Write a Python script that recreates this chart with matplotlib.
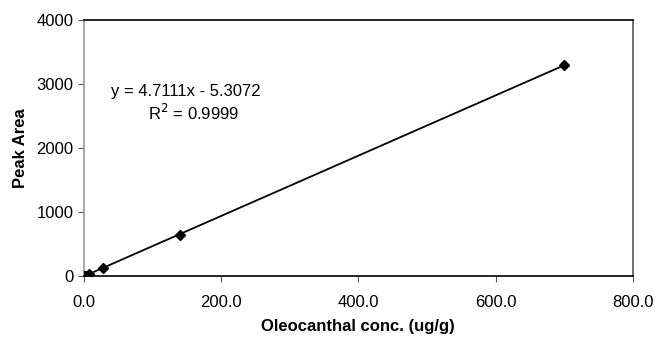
import numpy as np
import matplotlib.pyplot as plt

plt.rcParams['font.family'] = ['Liberation Sans', 'DejaVu Sans']

conc = [0.7, 1.4, 2.8, 7.0, 28.0, 140.0, 700.0]
area = [0.5, 2.0, 6.0, 25.0, 118.0, 645.0, 3290.0]
slope, intercept = 4.7111, -5.3072
x_ticks = [0, 200, 400, 600, 800]
y_ticks = [0, 1000, 2000, 3000, 4000]

fig = plt.figure(figsize=(6.55, 3.39), dpi=100)
ax = fig.add_axes([0.128, 0.186, 0.838, 0.755])

fit_x = np.array([min(conc), max(conc)])
ax.plot(fit_x, slope * fit_x + intercept, color='black', lw=1.3, zorder=2)
ax.plot(conc, area, linestyle='none', marker='D', color='black', ms=5, zorder=3)

ax.set_xlim(0, 800)
ax.set_ylim(0, 4000)
ax.set_xticks(x_ticks)
ax.set_xticklabels([f'{v:.1f}' for v in x_ticks])
ax.set_yticks(y_ticks)
ax.tick_params(labelsize=12, length=4, width=0.8, color='#555555')
ax.tick_params(axis='x', pad=10)

ax.spines['left'].set_color('#999999')
ax.spines['bottom'].set_color('black')
ax.spines['top'].set_color('black')
ax.spines['right'].set_color('#555555')
for s in ax.spines.values():
    s.set_linewidth(1.2)

ax.set_xlabel('Oleocanthal conc. (ug/g)', fontsize=12, fontweight='bold', labelpad=6)
ax.set_ylabel('Peak Area', fontsize=12, fontweight='bold', labelpad=6)

ax.text(149, 2875, 'y = 4.7111x - 5.3072', ha='center', va='center', fontsize=12)
ax.text(160, 2545, r'R$^2$ = 0.9999', ha='center', va='center', fontsize=12)

fig.savefig('out.png', dpi=100)
